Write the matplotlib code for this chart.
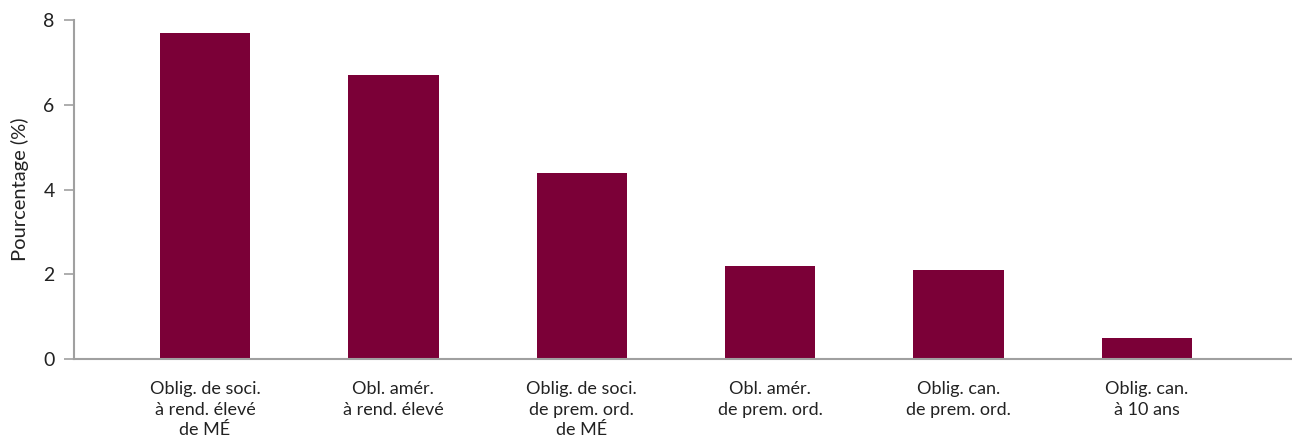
import matplotlib
matplotlib.use("Agg")
import matplotlib.pyplot as plt

# Data
categories = [
    "Oblig. de soci.\nà rend. élevé\nde MÉ",
    "Obl. amér.\nà rend. élevé",
    "Oblig. de soci.\nde prem. ord.\nde MÉ",
    "Obl. amér.\nde prem. ord.",
    "Oblig. can.\nde prem. ord.",
    "Oblig. can.\nà 10 ans",
]
values = [7.7, 6.7, 4.4, 2.2, 2.1, 0.5]
y_ticks = [0, 2, 4, 6, 8]

plt.rcParams['font.family'] = ['Lato', 'DejaVu Sans']

fig = plt.figure(figsize=(12.92, 4.44), dpi=100)
ax = fig.add_axes([0.0573, 0.1914, 0.9427, 0.7635])

x = range(len(categories))
ax.bar(x, values, width=0.48, color='#7b0037')

axis_color = '#a0a0a0'
ax.set_xlim(-0.695, 5.77)
ax.set_ylim(0, 8)
ax.set_yticks(y_ticks)
ax.set_xticks(list(x))
ax.set_xticklabels(categories, fontsize=13, color='#222222', linespacing=1.33)
ax.tick_params(axis='x', length=0, pad=16)
ax.tick_params(axis='y', length=7, width=1.2, color=axis_color,
               labelsize=14, labelcolor='#222222', pad=7)

for side in ['top', 'right']:
    ax.spines[side].set_visible(False)
for side in ['left', 'bottom']:
    ax.spines[side].set_color(axis_color)
    ax.spines[side].set_linewidth(1.5)

ax.set_ylabel('Pourcentage (%)', fontsize=14.5, color='#222222', labelpad=10)

fig.savefig('out.png', dpi=100)
